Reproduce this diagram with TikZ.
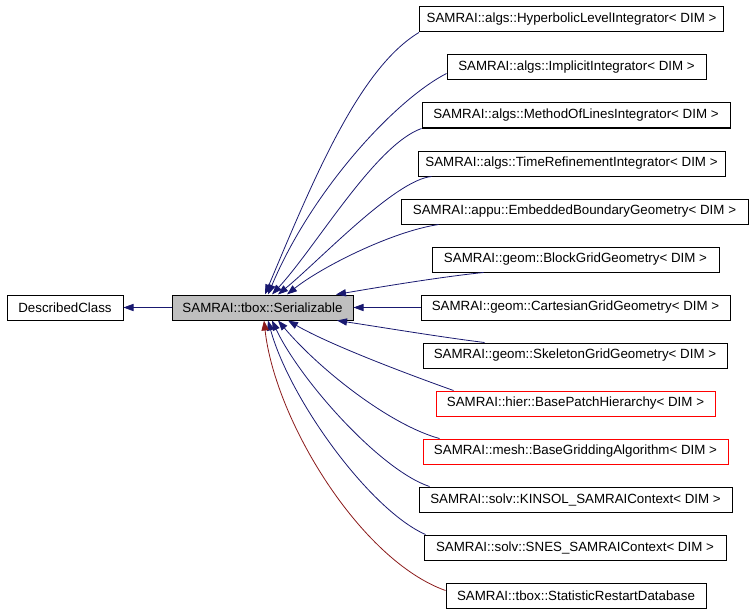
\documentclass[tikz,border=0pt]{standalone}
\usepackage{fontspec}
\setmainfont{Liberation Sans}
\usetikzlibrary{arrows.meta,calc}
\definecolor{edgeblue}{HTML}{191970}
\definecolor{edgered}{HTML}{8B1A1A}
\definecolor{boxgray}{HTML}{BFBFBF}
\tikzset{
  cls/.style={draw, line width=0.75pt, rectangle, inner xsep=5.4pt, inner ysep=0pt,
    minimum height=18.75pt, font=\fontsize{10}{11}\selectfont},
  undoc/.style={cls, draw=red},
  inh/.style={edgeblue, line width=0.6pt, -{Triangle[length=7.5pt,width=5.4pt]}},
  prot/.style={inh, edgered},
}

\begin{document}
\begin{tikzpicture}[x=0.75pt, y=-0.75pt]
\useasboundingbox (0,0) rectangle (755,613);
%\draw[help lines, step=50] (0,0) grid (755,613);
\node [cls, minimum width=87pt] (desc) at (65, 307.5) {DescribedClass};
\node [cls, fill=boxgray, minimum width=135.75pt] (ser) at (262.5, 307.5) {SAMRAI::tbox::Serializable};

\node [cls, minimum width=227.25pt] (hyp) at (571.5, 19.5) {SAMRAI::algs::HyperbolicLevelIntegrator< DIM >};
\node [cls, minimum width=194.25pt] (impl) at (576.5, 67.5) {SAMRAI::algs::ImplicitIntegrator< DIM >};
\node [cls, minimum width=231pt] (mol) at (576, 115.5) {SAMRAI::algs::MethodOfLinesIntegrator< DIM >};
\node [cls, minimum width=230.25pt] (tri) at (571.5, 163.5) {SAMRAI::algs::TimeRefinementIntegrator< DIM >};
\node [cls, minimum width=260.25pt] (ebg) at (574.5, 211.5) {SAMRAI::appu::EmbeddedBoundaryGeometry< DIM >};
\node [cls, minimum width=215.25pt] (bgg) at (575.5, 259.5) {SAMRAI::geom::BlockGridGeometry< DIM >};
\node [cls, minimum width=231.75pt] (cgg) at (575.5, 307.5) {SAMRAI::geom::CartesianGridGeometry< DIM >};
\node [cls, minimum width=228pt] (sgg) at (575, 355.5) {SAMRAI::geom::SkeletonGridGeometry< DIM >};
\node [undoc, minimum width=209.25pt] (bph) at (575.5, 403.5) {SAMRAI::hier::BasePatchHierarchy< DIM >};
\node [undoc, minimum width=228.75pt] (bga) at (575.5, 451.5) {SAMRAI::mesh::BaseGriddingAlgorithm< DIM >};
\node [cls, minimum width=234.75pt] (kin) at (575.5, 499.5) {SAMRAI::solv::KINSOL\_SAMRAIContext< DIM >};
\node [cls, minimum width=226.5pt] (snes) at (575, 547.5) {SAMRAI::solv::SNES\_SAMRAIContext< DIM >};
\node [cls, minimum width=195pt] (srd) at (576, 595.5) {SAMRAI::tbox::StatisticRestartDatabase};

\draw [inh] (ser) -- (desc);
% children above
\draw [inh] (hyp.south west) .. controls (360, 68) and (315, 175) .. ($(ser.north)+(2.5,0)$);
\draw [inh] ($(impl.west)+(0,6)$) .. controls (395, 100) and (312, 190) .. ($(ser.north)+(5.5,0)$);
\draw [inh] (mol.south west) .. controls (375, 145) and (316, 247) .. ($(ser.north)+(9.5,0)$);
\draw [inh] ($(tri.south west)+(14,0)$) .. controls (395, 180) and (320, 260) .. ($(ser.north)+(15.5,0)$);
\draw [inh] ($(ebg.south west)+(38,0)$) .. controls (390, 232) and (320, 268) .. ($(ser.north)+(24.5,0)$);
\draw [inh] ($(bgg.south west)+(52,0)$) .. controls (440, 277) and (380, 287) .. ($(ser.north)+(73.5,0)$);
\draw [inh] (cgg) -- (ser);
% children below
\draw [inh] ($(sgg.north west)+(62,0)$) .. controls (440, 337) and (380, 327) .. ($(ser.south)+(74.5,0)$);
\draw [inh] ($(bph.north west)+(18,0)$) .. controls (410, 375) and (330, 345) .. ($(ser.south)+(25.5,0)$);
\draw [inh] ($(bga.north west)+(17,0)$) .. controls (390, 425) and (320, 370) .. ($(ser.south)+(15.5,0)$);
\draw [inh] ($(kin.north west)+(11,0)$) .. controls (380, 470) and (300, 380) .. ($(ser.south)+(9.5,0)$);
\draw [inh] ($(snes.north west)+(2,0)$) .. controls (370, 510) and (290, 400) .. ($(ser.south)+(5.5,0)$);
\draw [prot] ($(srd.west)+(0,-5)$) .. controls (360, 560) and (275, 420) .. ($(ser.south)+(1.5,0)$);
\end{tikzpicture}
\end{document}
